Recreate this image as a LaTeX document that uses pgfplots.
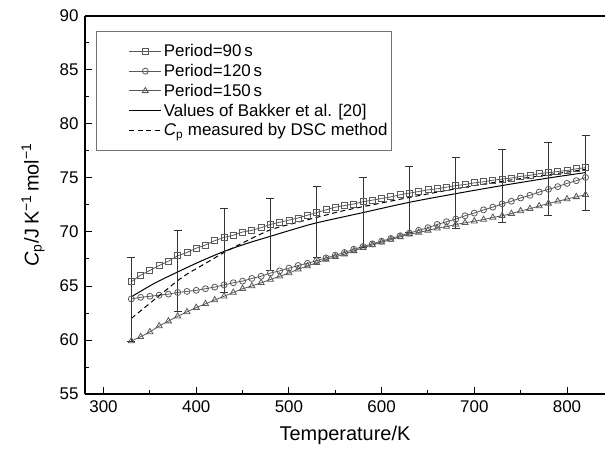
\documentclass[border=0pt]{standalone}
\usepackage{fontspec}
\setmainfont{Liberation Sans}
\usepackage{pgfplots}
\pgfplotsset{compat=1.18}

\begin{document}
\begin{tikzpicture}
    \begin{axis}[
        scale only axis,
        width  = 520bp,
        height = 378bp,
        xmin = 280, xmax = 841,
        ymin = 55, ymax = 90,
        axis x line* = bottom,
        axis y line* = left,
        axis line style = {line width=1.4bp, -},
        xtick = {300,400,...,800},
        ytick = {55,60,...,90},
        minor x tick num = 1,
        minor y tick num = 1,
        tick align = inside,
        major tick length = 7bp,
        minor tick length = 4bp,
        tick style = {line width=1bp, black},
        /pgf/number format/assume math mode = true,
        tick label style = {font=\fontsize{17}{20}\selectfont},
        xticklabel style = {yshift=-3bp},
        yticklabel style = {xshift=-3bp},
        xlabel = {Temperature/K},
        ylabel = {\textit{C}\textsubscript{p}/J\,K\textsuperscript{−1}\,mol\textsuperscript{−1}},
        label style = {font=\fontsize{20}{24}\selectfont},
        xlabel style = {at={(axis description cs:0.5,-0.11)}, anchor=center},
        ylabel style = {at={(axis description cs:-0.1,0.5)}, anchor=center},
        legend cell align = left,
        legend style = {
            at={(axis description cs:0.021,0.96)},
            anchor=north west,
            draw=black!55, line width=0.8bp,
            inner xsep=2bp, inner ysep=11bp,
            font=\fontsize{17}{19.5}\selectfont,
            row sep=2bp
        },
        legend image code/.code = {
            \path[draw=none] (0,0) -- (31bp,0);
            \draw[mark repeat=2, mark phase=2, #1]
                plot coordinates {(31bp,0) (47bp,0) (63bp,0)};
        },
        every axis plot/.append style = {line width=0.8bp}
    ]
        % Period = 90 s
        \addplot[black!65, mark=square, mark size=3bp, mark options={solid, fill=white}]
            coordinates {
                (330,65.4) (340,66.0) (350,66.45) (360,66.9) (370,67.3)
                (380,67.8) (390,68.1) (400,68.5) (410,68.8) (420,69.2)
                (430,69.5) (440,69.7) (450,70.0) (460,70.15) (470,70.4)
                (480,70.7) (490,70.9) (500,71.1) (510,71.3) (520,71.55)
                (530,71.8) (540,72.05) (550,72.3) (560,72.45) (570,72.6)
                (580,72.8) (590,72.95) (600,73.1) (610,73.25) (620,73.45)
                (630,73.6) (640,73.75) (650,73.9) (660,74.0) (670,74.15)
                (680,74.3) (690,74.4) (700,74.55) (710,74.65) (720,74.8)
                (730,74.9) (740,75.0) (750,75.15) (760,75.25) (770,75.4)
                (780,75.5) (790,75.6) (800,75.7) (810,75.85) (820,75.95)
        };
        % Period = 120 s
        \addplot[black!65, mark=o, mark size=3bp, mark options={solid, fill=white}]
            coordinates {
                (330,63.8) (340,63.95) (350,64.05) (360,64.15) (370,64.25)
                (380,64.4) (390,64.5) (400,64.6) (410,64.75) (420,64.9)
                (430,65.1) (440,65.3) (450,65.45) (460,65.7) (470,65.9)
                (480,66.2) (490,66.4) (500,66.65) (510,66.9) (520,67.1)
                (530,67.35) (540,67.6) (550,67.85) (560,68.1) (570,68.4)
                (580,68.65) (590,68.9) (600,69.15) (610,69.4) (620,69.65)
                (630,69.9) (640,70.15) (650,70.4) (660,70.7) (670,70.95)
                (680,71.2) (690,71.5) (700,71.75) (710,72.05) (720,72.3)
                (730,72.6) (740,72.85) (750,73.15) (760,73.4) (770,73.7)
                (780,73.95) (790,74.2) (800,74.5) (810,74.75) (820,75.05)
        };
        % Period = 150 s
        \addplot[black!65, mark=triangle, mark size=3.5bp, mark options={solid, fill=white}]
            coordinates {
                (330,59.9) (340,60.3) (350,60.75) (360,61.3) (370,61.75)
                (380,62.2) (390,62.6) (400,63.0) (410,63.35) (420,63.7)
                (430,64.05) (440,64.4) (450,64.75) (460,65.0) (470,65.3)
                (480,65.6) (490,65.9) (500,66.2) (510,66.55) (520,66.85)
                (530,67.15) (540,67.45) (550,67.7) (560,67.95) (570,68.25)
                (580,68.55) (590,68.8) (600,69.05) (610,69.3) (620,69.55)
                (630,69.8) (640,69.95) (650,70.15) (660,70.35) (670,70.5)
                (680,70.7) (690,70.85) (700,71.0) (710,71.15) (720,71.35)
                (730,71.5) (740,71.7) (750,71.95) (760,72.15) (770,72.4)
                (780,72.65) (790,72.85) (800,73.05) (810,73.25) (820,73.45)
        };
        % Bakker et al.
        \addplot[black, smooth, mark=none, line width=1bp]
            coordinates {
                (330,64.0) (355,65.25) (380,66.3) (405,67.3) (430,68.2)
                (455,68.95) (480,69.6) (505,70.25) (530,70.85) (580,71.8)
                (630,72.75) (680,73.55) (730,74.3) (780,75.0) (820,75.5)
        };
        % DSC
        \addplot[black, smooth, mark=none, line width=1bp, dash pattern=on 5bp off 3.5bp]
            coordinates {
                (330,62.0) (340,62.7) (350,63.4) (360,64.1) (370,64.8)
                (380,65.5) (390,66.1) (400,66.6) (410,67.1) (420,67.6)
                (430,68.1) (455,69.2) (480,70.2) (505,70.8) (530,71.35)
                (555,71.9) (583,72.4) (630,73.2) (680,74.0) (730,74.7)
                (780,75.3) (820,75.8)
        };
        % error bars
        \addplot[draw=none, mark=none, forget plot,
            error bars/.cd, y dir=both, y explicit,
            error bar style={line width=1bp, black!80},
            error mark options={rotate=90, mark size=4bp, line width=1bp, black!80}]
            coordinates {
                (330,63.75) +- (0,3.85)
                (380,66.35) +- (0,3.75)
                (430,68.3)  +- (0,3.9)
                (480,69.75) +- (0,3.35)
                (530,70.9)  +- (0,3.3)
                (580,71.83) +- (0,3.23)
                (630,73.03) +- (0,3.03)
                (680,73.58) +- (0,3.28)
                (730,74.25) +- (0,3.35)
                (780,74.9)  +- (0,3.4)
                (820,75.45) +- (0,3.45)
        };
        \legend{Period=90\,s, Period=120\,s, Period=150\,s,
            Values of Bakker et al. [20],
            \textit{C}\textsubscript{p} measured by DSC method}
        \coordinate (bl) at (rel axis cs:0,0);
        \coordinate (tr) at (rel axis cs:1,1);
    \end{axis}
    \draw[line width=1.6bp] (bl |- tr) -- (tr);
    \pgfresetboundingbox
    \path[use as bounding box] ([xshift=-85bp,yshift=-58bp]bl) rectangle ([yshift=16bp]tr);
\end{tikzpicture}
\end{document}
